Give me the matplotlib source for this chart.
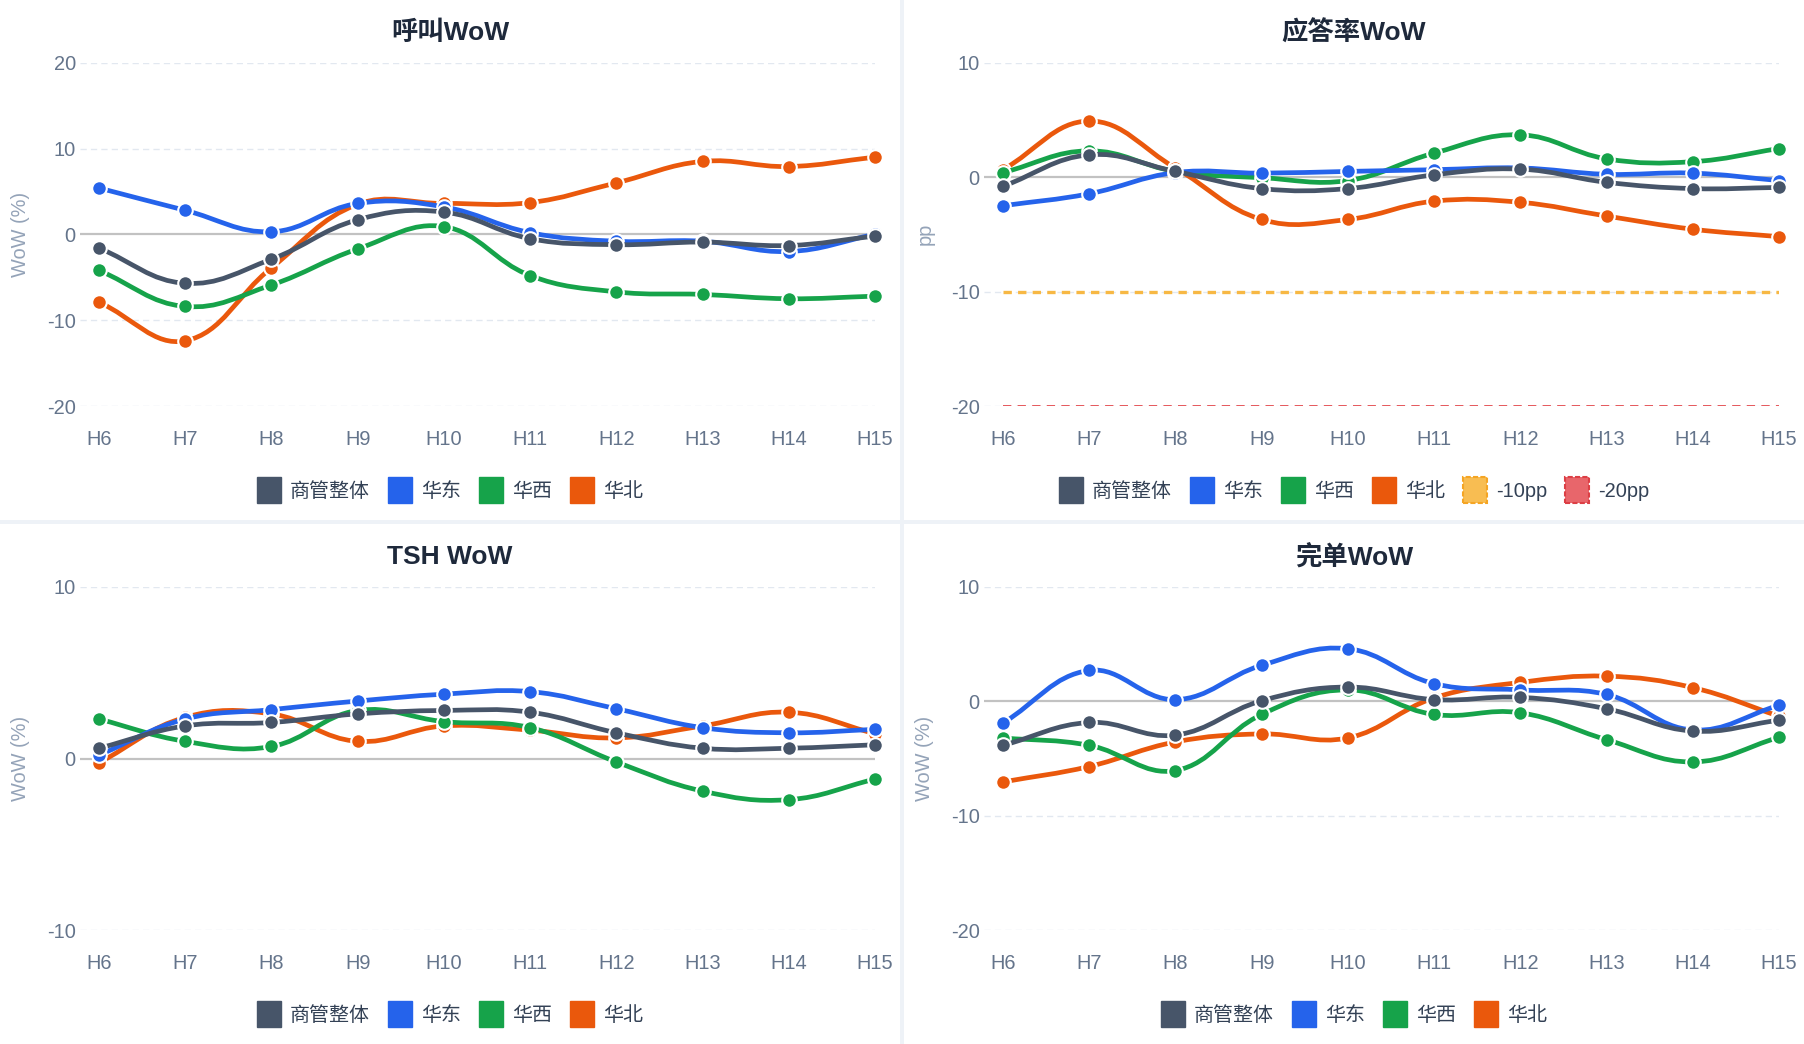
import numpy as np
import matplotlib.pyplot as plt
from matplotlib.path import Path
from matplotlib.patches import PathPatch, Patch, Rectangle

plt.rcParams['font.family'] = ['Liberation Sans', 'Noto Sans CJK SC']
plt.rcParams['lines.scale_dashes'] = False

# Data
hours = ['H6', 'H7', 'H8', 'H9', 'H10', 'H11', 'H12', 'H13', 'H14', 'H15']
series_names = ['商管整体', '华东', '华西', '华北']
series_colors = ['#475569', '#2563eb', '#16a34a', '#ea580c']

call_total = [-1.6, -5.7, -2.9, 1.7, 2.6, -0.5, -1.2, -0.9, -1.3, -0.2]
call_east = [5.4, 2.8, 0.3, 3.6, 3.2, 0.2, -0.8, -0.8, -2.0, 0.0]
call_west = [-4.2, -8.4, -5.9, -1.7, 0.9, -4.8, -6.7, -7.0, -7.5, -7.2]
call_north = [-7.9, -12.4, -3.9, 3.5, 3.6, 3.7, 6.0, 8.5, 7.9, 9.0]

answer_total = [-0.8, 1.95, 0.5, -1.0, -1.0, 0.2, 0.7, -0.45, -1.0, -0.9]
answer_east = [-2.5, -1.45, 0.4, 0.35, 0.5, 0.65, 0.8, 0.25, 0.35, -0.3]
answer_west = [0.4, 2.3, 0.5, -0.05, -0.3, 2.1, 3.7, 1.6, 1.35, 2.5]
answer_north = [0.65, 4.9, 0.8, -3.7, -3.7, -2.1, -2.2, -3.4, -4.55, -5.2]
answer_warn = -10
answer_alarm = -20

tsh_total = [0.6, 1.9, 2.1, 2.6, 2.8, 2.7, 1.5, 0.6, 0.6, 0.8]
tsh_east = [0.2, 2.3, 2.85, 3.35, 3.75, 3.9, 2.9, 1.8, 1.5, 1.7]
tsh_west = [2.3, 1.0, 0.7, 2.8, 2.15, 1.8, -0.2, -1.9, -2.4, -1.2]
tsh_north = [-0.25, 2.4, 2.6, 1.0, 1.9, 1.65, 1.2, 1.9, 2.7, 1.45]

done_total = [-3.85, -1.85, -2.95, 0.05, 1.25, 0.15, 0.35, -0.65, -2.6, -1.65]
done_east = [-1.9, 2.7, 0.15, 3.15, 4.6, 1.55, 1.0, 0.6, -2.5, -0.35]
done_west = [-3.2, -3.85, -6.05, -1.15, 1.0, -1.15, -1.0, -3.35, -5.3, -3.15]
done_north = [-7.05, -5.7, -3.55, -2.85, -3.2, 0.3, 1.65, 2.2, 1.2, -1.3]

W, H = 1804, 1044
fig = plt.figure(figsize=(W / 100, H / 100), dpi=100, facecolor='#eef2f7')


def fx(px):
    return px / W


def fy(py):
    return 1 - py / H


# white panels
for x0, y0, x1, y1 in [(0, 0, 900, 520), (904, 0, 1804, 520),
                       (0, 524, 900, 1044), (904, 524, 1804, 1044)]:
    fig.patches.append(Rectangle((fx(x0), fy(y1)), fx(x1 - x0), (y1 - y0) / H,
                                 transform=fig.transFigure, facecolor='white',
                                 edgecolor='none', zorder=-10))


def smooth_path(ax, xs, ys, tension=0.4):
    # chart.js style spline, control points from pixel distances
    xlo, xhi = ax.get_xlim()
    ylo, yhi = ax.get_ylim()
    sx = ax.bbox.width / (xhi - xlo)
    sy = ax.bbox.height / (yhi - ylo)
    n = len(xs)
    cp_prev, cp_next = [], []
    for i in range(n):
        p = max(i - 1, 0)
        q = min(i + 1, n - 1)
        d01 = np.hypot((xs[i] - xs[p]) * sx, (ys[i] - ys[p]) * sy)
        d12 = np.hypot((xs[q] - xs[i]) * sx, (ys[q] - ys[i]) * sy)
        tot = d01 + d12
        s01 = d01 / tot if tot else 0
        s12 = d12 / tot if tot else 0
        vx = xs[q] - xs[p]
        vy = ys[q] - ys[p]
        cp_prev.append((xs[i] - tension * s01 * vx, ys[i] - tension * s01 * vy))
        cp_next.append((xs[i] + tension * s12 * vx, ys[i] + tension * s12 * vy))
    verts = [(xs[0], ys[0])]
    codes = [Path.MOVETO]
    for i in range(n - 1):
        verts += [cp_next[i], cp_prev[i + 1], (xs[i + 1], ys[i + 1])]
        codes += [Path.CURVE4] * 3
    return Path(verts, codes)


def draw_panel(box, title, ylim, yticks, data, ylabel, extra=None):
    left, top, right, bottom = box
    ax = fig.add_axes([fx(left), fy(bottom), fx(right - left), (bottom - top) / H])
    ax.set_facecolor('none')
    ax.set_xlim(-0.22, len(hours) - 1)
    ax.set_ylim(*ylim)
    ax.set_autoscale_on(False)
    for s in ax.spines.values():
        s.set_visible(False)
    ax.set_xticks(range(len(hours)))
    ax.set_xticklabels(hours)
    ax.set_yticks(yticks)
    ax.set_yticklabels([str(t) for t in yticks])
    ax.tick_params(axis='x', length=0, pad=17.5, labelsize=14.4, labelcolor='#64748b')
    ax.tick_params(axis='y', length=0, pad=3, labelsize=14.4, labelcolor='#64748b')
    for t in yticks:
        if t == 0:
            ax.axhline(0, color='#c2c2c2', lw=1.6, zorder=1)
        else:
            ax.axhline(t, color='#e2e8f0', lw=1.0, dashes=(4.5, 3), zorder=1)

    xs = np.arange(len(hours))
    if extra:
        for val, col, lw, dash in extra:
            ax.plot(xs, [val] * len(xs), color=col, lw=lw, dashes=dash, zorder=2)

    n = len(data)
    for k, (vals, col) in enumerate(zip(data, series_colors)):
        z = 10 + (n - k) * 2
        path = smooth_path(ax, xs, vals)
        ax.add_patch(PathPatch(path, fill=False, edgecolor=col, lw=3.4,
                               capstyle='round', joinstyle='round', zorder=z))
        ax.plot(xs, vals, 'o', color=col, ms=10.5, mec='white', mew=1.5,
                zorder=z + 1, clip_on=False)

    panel_x = 0 if left < 900 else 904
    fig.text(fx(panel_x + 450), fy(top - 30), title, ha='center', va='center',
             fontsize=19, fontweight='bold', color='#1e293b')
    fig.text(fx(left - 59), fy((top + bottom) / 2), ylabel, rotation=90, ha='center',
             va='center', fontsize=14.4, color='#94a3b8')
    return ax


def add_legend(cx, cy, labels, handles):
    fig.legend(handles, labels, loc='center', bbox_to_anchor=(fx(cx), fy(cy)),
               ncol=len(labels), frameon=False, fontsize=14.4, labelcolor='#334155',
               handlelength=1.2, handleheight=1.55, handletextpad=0.45,
               columnspacing=0.9, borderpad=0)


base_handles = [Patch(facecolor=c, edgecolor=c) for c in series_colors]

draw_panel((80, 62.7, 875, 406), '呼叫WoW', (-20, 20), [20, 10, 0, -10, -20],
           [call_total, call_east, call_west, call_north], 'WoW (%)')
add_legend(450, 490, series_names, base_handles)

draw_panel((984, 62.7, 1779, 406), '应答率WoW', (-20, 10), [10, 0, -10, -20],
           [answer_total, answer_east, answer_west, answer_north], 'pp',
           extra=[(answer_warn, '#f7b844', 2.4, (6, 4.5)),
                  (answer_alarm, '#e5585c', 1.4, (6, 4.5))])
warn_handle = Patch(facecolor='#f8bd52', edgecolor='#f5a524', linestyle='--', lw=1.5)
alarm_handle = Patch(facecolor='#e8666b', edgecolor='#dc3f45', linestyle='--', lw=1.5)
add_legend(1354, 490, series_names + ['-10pp', '-20pp'],
           base_handles + [warn_handle, alarm_handle])

draw_panel((80, 587, 875, 930), 'TSH WoW', (-10, 10), [10, 0, -10],
           [tsh_total, tsh_east, tsh_west, tsh_north], 'WoW (%)')
add_legend(450, 1014, series_names, base_handles)

draw_panel((984, 587, 1779, 930), '完单WoW', (-20, 10), [10, 0, -10, -20],
           [done_total, done_east, done_west, done_north], 'WoW (%)')
add_legend(1354, 1014, series_names, base_handles)

fig.savefig('out.png', dpi=100, facecolor=fig.get_facecolor())
